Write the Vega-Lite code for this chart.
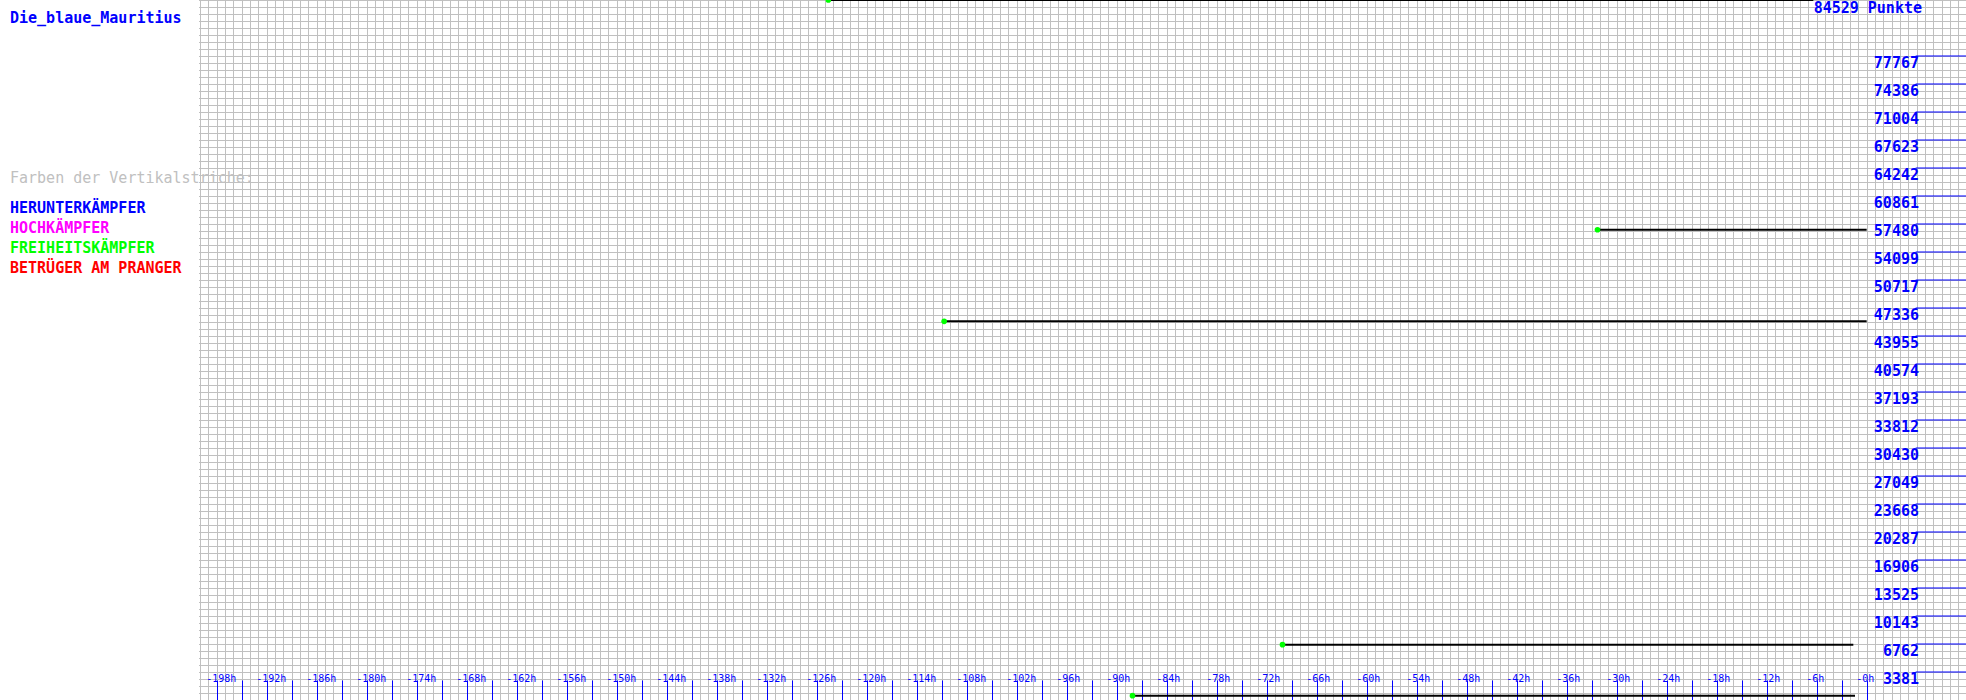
{
  "$schema": "https://vega.github.io/schema/vega-lite/v6.json",
  "width": 1966,
  "height": 700,
  "autosize": "none",
  "padding": 0,
  "background": "white",
  "config": {"view": {"stroke": null}},
  "layer": [
    {
      "data": {"values": [{"g": 0}]},
      "mark": {"type": "point", "opacity": 0},
      "encoding": {
        "x": {"field": "g", "type": "quantitative",
          "scale": {"domain": [-224, 11.92], "nice": false, "zero": false},
          "axis": {"grid": true, "gridColor": "#c0c0c0", "gridWidth": 1, "gridOpacity": 1, "tickCount": 236, "labels": false, "ticks": false, "domain": false, "title": null}},
        "y": {"field": "g", "type": "quantitative",
          "scale": {"domain": [0, 100], "nice": false, "zero": false},
          "axis": {"grid": true, "gridColor": "#c0c0c0", "gridWidth": 1, "gridOpacity": 1, "tickCount": 100, "labels": false, "ticks": false, "domain": false, "title": null}}
      }
    },
    {
      "data": {"values": [{"g": 0}]},
      "mark": {"type": "point", "opacity": 0},
      "encoding": {
        "x": {"field": "g", "type": "quantitative",
          "scale": {"domain": [-224, 11.92], "nice": false, "zero": false},
          "axis": {
            "orient": "top", "offset": -700, "grid": false, "domain": false, "title": null,
            "values": [-198,-195,-192,-189,-186,-183,-180,-177,-174,-171,-168,-165,-162,-159,-156,-153,-150,-147,-144,-141,-138,-135,-132,-129,-126,-123,-120,-117,-114,-111,-108,-105,-102,-99,-96,-93,-90,-87,-84,-81,-78,-75,-72,-69,-66,-63,-60,-57,-54,-51,-48,-45,-42,-39,-36,-33,-30,-27,-24,-21,-18,-15,-12,-9,-6,-3,0],
            "tickSize": 20, "tickColor": "#0000ff", "tickWidth": 1,
            "labelExpr": "datum.value % 6 == 0 ? '-' + abs(datum.value) + 'h' : ''",
            "labelColor": "#0000ff", "labelFont": "DejaVu Sans Mono", "labelFontSize": 10,
            "labelAlign": "left", "labelOffset": -11, "labelBaseline": "alphabetic", "labelPadding": -1,
            "labelOverlap": false, "labelFlush": false, "labelBound": false
          }}
      }
    },
    {
      "layer": [
        {
          "data": {"values": [{}]},
          "mark": {"type": "rect", "color": "white"},
          "encoding": {
            "x": {"datum": -224, "type": "quantitative", "scale": {"domain": [-224, 11.92], "nice": false, "zero": false}, "axis": null},
            "x2": {"datum": -200.12},
            "y": {"datum": 0, "type": "quantitative", "scale": {"domain": [0, 84529], "nice": false, "zero": false}, "axis": null},
            "y2": {"datum": 84529}
          }
        },
        {
          "data": {"values": [
            {"v": 3381}, {"v": 6762}, {"v": 10143}, {"v": 13525}, {"v": 16906}, {"v": 20287},
            {"v": 23668}, {"v": 27049}, {"v": 30430}, {"v": 33812}, {"v": 37193}, {"v": 40574},
            {"v": 43955}, {"v": 47336}, {"v": 50717}, {"v": 54099}, {"v": 57480}, {"v": 60861},
            {"v": 64242}, {"v": 67623}, {"v": 71004}, {"v": 74386}, {"v": 77767}
          ]},
          "layer": [
            {
              "mark": {"type": "rule", "color": "#0000ff", "strokeWidth": 1},
              "encoding": {
                "x": {"datum": 5.88, "type": "quantitative", "axis": null},
                "x2": {"datum": 11.92},
                "y": {"field": "v", "type": "quantitative", "axis": null}
              }
            },
            {
              "mark": {"type": "text", "color": "#0000ff", "font": "DejaVu Sans Mono", "fontSize": 15, "fontWeight": "bold", "align": "right", "baseline": "alphabetic", "dy": 12},
              "encoding": {
                "x": {"datum": 6.28, "type": "quantitative", "axis": null},
                "y": {"field": "v", "type": "quantitative", "axis": null},
                "text": {"field": "v", "type": "quantitative", "format": "d"}
              }
            }
          ]
        },
        {
          "data": {"values": [
            {"start": -124.6, "end": -6.4, "v": 84529},
            {"start": -32.3, "end": 0, "v": 56791},
            {"start": -110.7, "end": 0, "v": 45730},
            {"start": -70.1, "end": -1.6, "v": 6678},
            {"start": -88.1, "end": -1.4, "v": 519}
          ]},
          "layer": [
            {
              "mark": {"type": "rule", "color": "black", "strokeWidth": 2},
              "encoding": {
                "x": {"field": "start", "type": "quantitative", "axis": null},
                "x2": {"field": "end"},
                "y": {"field": "v", "type": "quantitative", "axis": null}
              }
            },
            {
              "mark": {"type": "circle", "color": "#00ff00", "opacity": 1, "size": 32},
              "encoding": {
                "x": {"field": "start", "type": "quantitative", "axis": null},
                "y": {"field": "v", "type": "quantitative", "axis": null}
              }
            }
          ]
        },
        {
          "data": {"values": [{"t": "84529 Punkte", "v": 84529}]},
          "mark": {"type": "text", "color": "#0000ff", "font": "DejaVu Sans Mono", "fontSize": 15, "fontWeight": "bold", "align": "right", "baseline": "alphabetic", "dy": 13},
          "encoding": {
            "x": {"datum": 6.64, "type": "quantitative", "axis": null},
            "y": {"field": "v", "type": "quantitative", "axis": null},
            "text": {"field": "t"}
          }
        },
        {
          "data": {"values": [
            {"t": "Die_blaue_Mauritius", "v": 81752},
            {"t": "HERUNTERKÄMPFER", "v": 58772},
            {"t": "HOCHKÄMPFER", "v": 56357},
            {"t": "FREIHEITSKÄMPFER", "v": 53942},
            {"t": "BETRÜGER AM PRANGER", "v": 51527}
          ]},
          "mark": {"type": "text", "font": "DejaVu Sans Mono", "fontSize": 15, "fontWeight": "bold", "align": "left", "baseline": "alphabetic"},
          "encoding": {
            "x": {"datum": -222.8, "type": "quantitative", "axis": null},
            "y": {"field": "v", "type": "quantitative", "axis": null},
            "text": {"field": "t"},
            "color": {"field": "t", "type": "nominal", "legend": null,
              "scale": {"domain": ["Die_blaue_Mauritius", "HERUNTERKÄMPFER", "HOCHKÄMPFER", "FREIHEITSKÄMPFER", "BETRÜGER AM PRANGER"],
                        "range": ["#0000ff", "#0000ff", "#ff00ff", "#00ff00", "#ff0000"]}}
          }
        },
        {
          "data": {"values": [{"t": "Farben der Vertikalstriche:", "v": 62431}]},
          "mark": {"type": "text", "color": "#c0c0c0", "font": "DejaVu Sans Mono", "fontSize": 15, "align": "left", "baseline": "alphabetic"},
          "encoding": {
            "x": {"datum": -222.8, "type": "quantitative", "axis": null},
            "y": {"field": "v", "type": "quantitative", "axis": null},
            "text": {"field": "t"}
          }
        }
      ]
    }
  ],
  "resolve": {"scale": {"x": "independent", "y": "independent"}}
}
